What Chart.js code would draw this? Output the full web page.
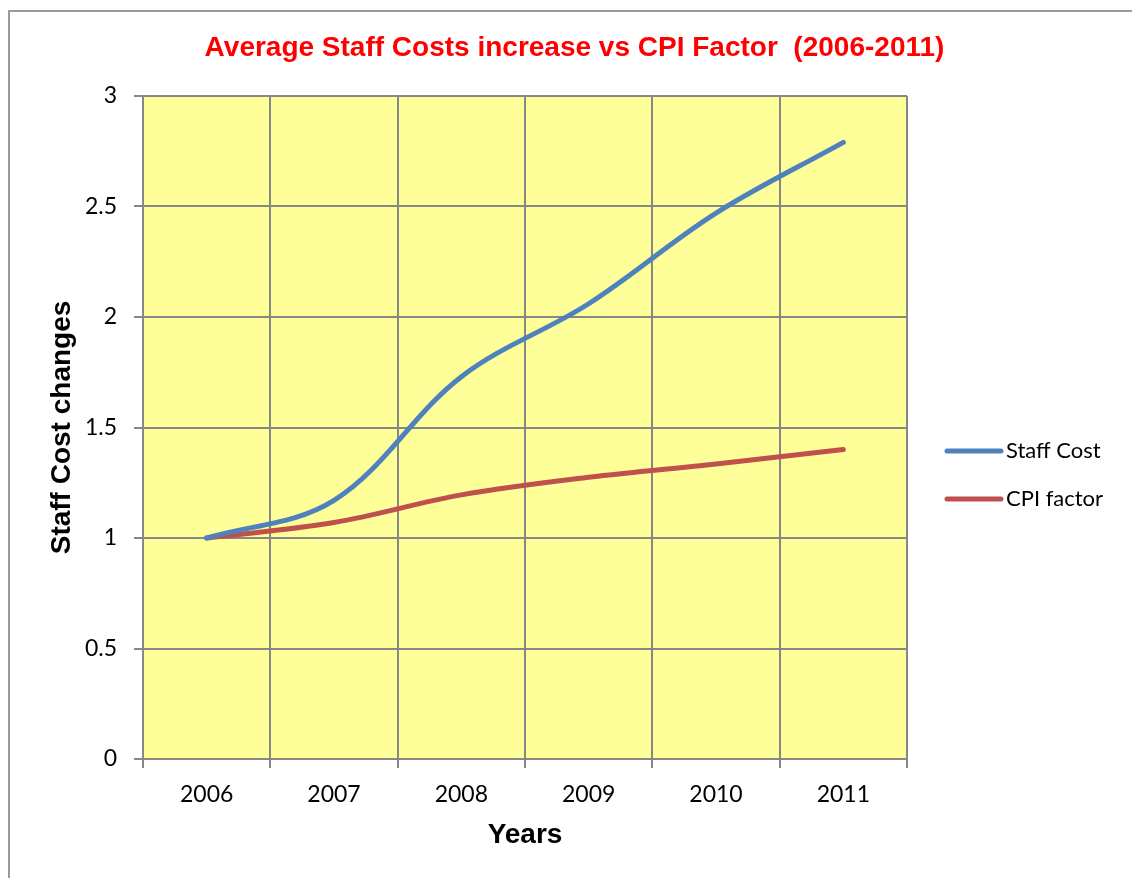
<!DOCTYPE html>
<html>
<head>
<meta charset="utf-8">
<title>Average Staff Costs increase vs CPI Factor (2006-2011)</title>
<script src="https://cdn.jsdelivr.net/npm/chart.js@4.4.0/dist/chart.umd.min.js"></script>
<style>
  html, body { margin: 0; padding: 0; background: #fff; }
  #wrap { width: 1132px; height: 878px; }
</style>
</head>
<body>
<div id="wrap"><canvas id="costChart" width="1132" height="878"></canvas></div>
<script>
// Series data
const years = ['2006', '2007', '2008', '2009', '2010', '2011'];
const staffCost = [1.0, 1.17, 1.73, 2.06, 2.47, 2.79];
const cpiFactor = [1.0, 1.07, 1.195, 1.275, 1.335, 1.40];
const yTicks = [0, 0.5, 1, 1.5, 2, 2.5, 3];
const chartTitle = 'Average Staff Costs increase vs CPI Factor  (2006-2011)';

const GRID = '#878787';
const LABEL_FONT = 'Lato, "Open Sans", sans-serif';
const BOLD_FONT = '"Liberation Sans", Arial, sans-serif';

// Yellow fill behind the plot area
const plotBackground = {
    id: 'plotBackground',
    beforeDraw(chart) {
        const { ctx, chartArea: a } = chart;
        ctx.save();
        ctx.fillStyle = '#FFFF99';
        ctx.fillRect(a.left, a.top, a.right - a.left, a.bottom - a.top);
        ctx.restore();
    }
};

// Thin grey frame round the chart object, plus the title centred on it
const outerFrame = {
    id: 'outerFrame',
    afterDraw(chart) {
        const { ctx, width, height } = chart;
        ctx.save();
        ctx.strokeStyle = '#9a9a9a';
        ctx.lineWidth = 2;
        ctx.beginPath();
        ctx.moveTo(9, height);
        ctx.lineTo(9, 11);
        ctx.lineTo(width, 11);
        ctx.stroke();

        ctx.fillStyle = '#FF0000';
        ctx.font = 'bold 28px ' + BOLD_FONT;
        ctx.textAlign = 'center';
        ctx.textBaseline = 'middle';
        ctx.fillText(chartTitle, (9 + width) / 2 + 4, 48);
        ctx.restore();
    }
};

// Legend to the right of the plot, line swatch + label
const sideLegend = {
    id: 'sideLegend',
    afterDraw(chart) {
        const { ctx, chartArea: a } = chart;
        const x0 = a.right + 40;
        let y = a.top + 355;
        ctx.save();
        ctx.font = '22px ' + LABEL_FONT;
        ctx.textBaseline = 'middle';
        ctx.textAlign = 'left';
        ctx.lineCap = 'round';
        chart.data.datasets.forEach(ds => {
            ctx.strokeStyle = ds.borderColor;
            ctx.lineWidth = 5;
            ctx.beginPath();
            ctx.moveTo(x0, y);
            ctx.lineTo(x0 + 54, y);
            ctx.stroke();
            ctx.fillStyle = '#000';
            ctx.fillText(ds.label, x0 + 59, y);
            y += 48;
        });
        ctx.restore();
    }
};

new Chart(document.getElementById('costChart'), {
    type: 'line',
    data: {
        labels: years,
        datasets: [{
            label: 'Staff Cost',
            data: staffCost,
            borderColor: '#4F81BD',
            borderWidth: 5,
            borderCapStyle: 'round',
            tension: 0.35,
            pointRadius: 0,
            fill: false
        }, {
            label: 'CPI factor',
            data: cpiFactor,
            borderColor: '#C0504D',
            borderWidth: 5,
            borderCapStyle: 'round',
            tension: 0.35,
            pointRadius: 0,
            fill: false
        }]
    },
    options: {
        responsive: false,
        animation: false,
        devicePixelRatio: 1,
        layout: { padding: { left: 8, top: 96, right: 225, bottom: 0 } },
        plugins: {
            legend: { display: false },
            tooltip: { enabled: false },
            title: { display: false }
        },
        scales: {
            x: {
                type: 'category',
                offset: true,
                grid: { offset: true, color: GRID, lineWidth: 2, tickLength: 9, tickColor: GRID },
                border: { color: GRID, width: 2 },
                ticks: { color: '#000', font: { family: LABEL_FONT, size: 23 }, padding: 13, maxRotation: 0 },
                title: {
                    display: true,
                    text: 'Years',
                    color: '#000',
                    font: { family: BOLD_FONT, size: 28, weight: 'bold' },
                    padding: { top: 0, bottom: 26 }
                },
                afterFit(scale) { scale.height = 119; }
            },
            y: {
                min: 0,
                max: 3,
                grid: { color: GRID, lineWidth: 2, tickLength: 9, tickColor: GRID },
                border: { color: GRID, width: 2 },
                ticks: {
                    color: '#000',
                    font: { family: LABEL_FONT, size: 23 },
                    padding: 17,
                    callback: value => String(value)
                },
                afterBuildTicks(scale) { scale.ticks = yTicks.map(v => ({ value: v })); },
                title: {
                    display: true,
                    text: 'Staff Cost changes',
                    color: '#000',
                    font: { family: BOLD_FONT, size: 28, weight: 'bold' },
                    padding: { top: 37, bottom: 0 }
                },
                afterFit(scale) { scale.width = 135; }
            }
        }
    },
    plugins: [plotBackground, outerFrame, sideLegend]
});
</script>
</body>
</html>
